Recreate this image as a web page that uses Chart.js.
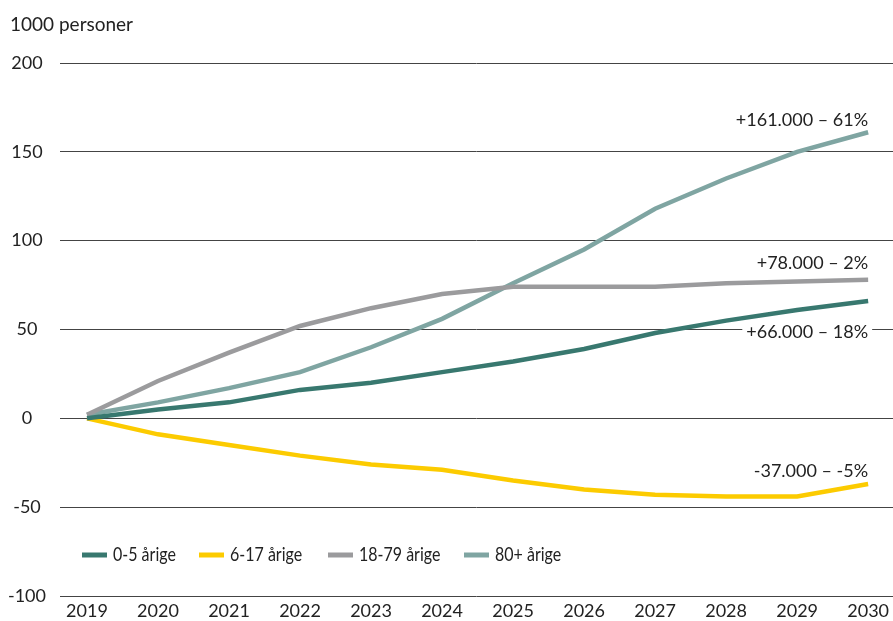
<!DOCTYPE html>
<html><head><meta charset="utf-8">
<script src="https://cdn.jsdelivr.net/npm/chart.js@4/dist/chart.umd.min.js"></script>
<style>html,body{margin:0;padding:0;background:#fff}#wrap{width:893px;height:621px}</style>
</head><body><div id="wrap"><canvas id="c"></canvas></div>
<script>
const years = [2019,2020,2021,2022,2023,2024,2025,2026,2027,2028,2029,2030];
const seriesNames = ["0-5 årige","6-17 årige","18-79 årige","80+ årige"];
const age0to5 = [0,5,9,16,20,26,32,39,48,55,61,66];
const age6to17 = [0,-9,-15,-21,-26,-29,-35,-40,-43,-44,-44,-37];
const age18to79 = [2,21,37,52,62,70,74,74,74,76,77,78];
const age80plus = [2,9,17,26,40,56,76,95,118,135,150,161];
const yTicks = [-100,-50,0,50,100,150,200];
const yTitle = "1000 personer";
const endLabels = ["+66.000 – 18%","-37.000 – -5%","+78.000 – 2%","+161.000 – 61%"];
const colors = ["#38786f","#fccb00","#9b9b9d","#7fa5a2"];
const FONT = "Lato, 'Open Sans', sans-serif";

const allSeries = [age0to5, age6to17, age18to79, age80plus];
const datasets = allSeries.map((s,i)=>({
  label: seriesNames[i],
  data: s.map((v,j)=>({x:years[j], y:v})),
  borderColor: colors[i], backgroundColor: colors[i],
  borderWidth: 4.5, pointRadius: 0, tension: 0, fill:false
}));
const overlay = {
  id:'overlay',
  afterDraw(chart){
    const ctx = chart.ctx, xs = chart.scales.x, ys = chart.scales.y;
    ctx.save();
    ctx.font = "19px " + FONT;
    ctx.fillStyle = "#222";
    ctx.textBaseline = "middle";
    ctx.textAlign = "left";
    ctx.fillText(yTitle, 10, 25);
    ctx.font = "18px " + FONT;
    const xr = xs.getPixelForValue(years[years.length-1]);
    ctx.textAlign = "right";
    allSeries.forEach((s,i)=>{
      let y;
      if (i===0) y = ys.getPixelForValue(50)+3;
      else if (i===1) y = ys.getPixelForValue(s[s.length-1]) - 13;
      else if (i===2) y = ys.getPixelForValue(s[s.length-1]) - 17;
      else y = ys.getPixelForValue(s[s.length-1]) - 12;
      const t = endLabels[i];
      if (i===0){
        const w = ctx.measureText(t).width;
        ctx.fillStyle="#fff"; ctx.fillRect(xr-w-4, y-10, w+8, 20);
      }
      ctx.fillStyle="#222";
      ctx.fillText(t, xr, y);
    });
    // legend
    const lx = [82,199,328,464];
    const ly = 555;
    ctx.textAlign="left";
    ctx.font = "20px " + FONT;
    chart.data.datasets.forEach((d,i)=>{
      ctx.strokeStyle = d.borderColor; ctx.lineWidth = 5;
      ctx.beginPath(); ctx.moveTo(lx[i], ly); ctx.lineTo(lx[i]+25, ly); ctx.stroke();
      ctx.fillStyle="#222";
      ctx.save();
      ctx.translate(lx[i]+31, ly);
      ctx.scale(0.8, 1);
      ctx.fillText(d.label, 0, 0);
      ctx.restore();
    });
    ctx.restore();
  }
};
new Chart(document.getElementById('c'), {
  type:'line',
  data:{datasets},
  plugins:[overlay],
  options:{
    responsive:true, maintainAspectRatio:false, animation:false,
    layout:{padding:{top:63,right:0,bottom:0,left:0}},
    plugins:{legend:{display:false}, tooltip:{enabled:false}, title:{display:false}},
    scales:{
      x:{type:'linear', min:2018.62, max:2030.35,
        grid:{display:false}, border:{display:false},
        afterBuildTicks: s=>{ s.ticks = years.map(v=>({value:v})); },
        afterFit: s=>{ s.height = 25; },
        ticks:{padding:-4, color:"#222", font:{family:FONT,size:18}, callback:v=>String(v), maxRotation:0, autoSkip:false}
      },
      y:{min:-100, max:200,
        afterBuildTicks: s=>{ s.ticks = yTicks.map(v=>({value:v})); },
        afterFit: s=>{ s.width = 60; },
        grid:{color:"#444", lineWidth:1, drawTicks:false}, border:{display:false},
        ticks:{padding:14, crossAlign:'center', color:"#222", font:{family:FONT,size:18}}
      }
    }
  }
});
</script></body></html>
